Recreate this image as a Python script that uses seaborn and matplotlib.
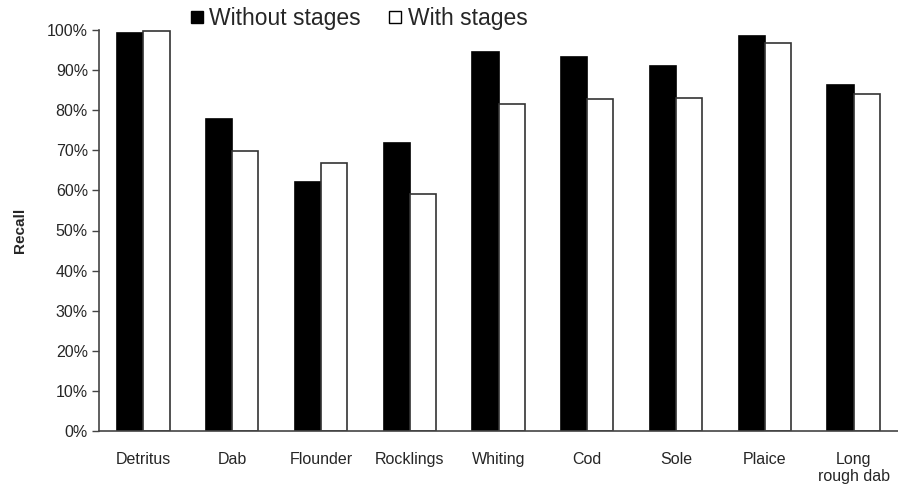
import matplotlib
matplotlib.use("Agg")
import matplotlib.pyplot as plt
import seaborn as sns
import pandas as pd
from matplotlib.lines import Line2D

categories = ["Detritus", "Dab", "Flounder", "Rocklings", "Whiting", "Cod",
              "Sole", "Plaice", "Long\nrough dab"]
without_stages = [99.2, 77.8, 62.1, 71.8, 94.5, 93.3, 91.0, 98.5, 86.3]
with_stages = [99.7, 69.8, 66.8, 59.1, 81.5, 82.8, 83.0, 96.8, 84.0]
series_names = ["Without stages", "With stages"]
y_ticks = [0, 10, 20, 30, 40, 50, 60, 70, 80, 90, 100]

df = pd.DataFrame({
    "Category": categories * 2,
    "Recall": without_stages + with_stages,
    "Series": [series_names[0]] * len(categories) + [series_names[1]] * len(categories),
})

sns.set_style("white")
plt.rcParams["font.family"] = ["Liberation Sans", "DejaVu Sans"]

fig = plt.figure(figsize=(8.98, 4.95), dpi=100)
ax = fig.add_axes([99 / 898, 1 - 431 / 495, 1 - 99 / 898, (431 - 30) / 495])

sns.barplot(data=df, x="Category", y="Recall", hue="Series", order=categories,
            hue_order=series_names, palette=["black", "white"], width=0.59,
            edgecolor="black", linewidth=1.2, ax=ax, legend=False)
for p in ax.patches:
    if p.get_facecolor()[0] > 0.5:
        p.set_edgecolor("#333333")

ax.set_ylim(0, 100)
ax.set_xlim(-0.5, len(categories) - 0.5)
ax.set_yticks(y_ticks)
ax.set_yticklabels([f"{v}%" for v in y_ticks], fontsize=11.5)
ax.set_xticks(range(len(categories)))
ax.set_xticklabels(categories, fontsize=11.5)
ax.set_xticks([i - 0.5 for i in range(len(categories) + 1)], minor=True)
ax.tick_params(axis="x", which="major", length=0, pad=15)
ax.tick_params(axis="x", which="minor", length=5, width=1, color="#444444", direction="out")
ax.tick_params(axis="y", length=5, width=1, color="#444444", direction="out", left=True, pad=3)
ax.set_xlabel("")
ax.set_ylabel("Recall", fontsize=11, fontweight="bold", labelpad=14)
for s in ["top", "right"]:
    ax.spines[s].set_visible(False)
for s in ["left", "bottom"]:
    ax.spines[s].set_color("#444444")
    ax.spines[s].set_linewidth(1.2)

handles = [
    Line2D([0], [0], marker="s", linestyle="none", markersize=9,
           markerfacecolor="black", markeredgecolor="black"),
    Line2D([0], [0], marker="s", linestyle="none", markersize=9,
           markerfacecolor="white", markeredgecolor="black", markeredgewidth=1),
]
fig.legend(handles, series_names, loc="center", bbox_to_anchor=(0.397, 0.962),
           ncol=2, frameon=False, fontsize=16.5, handletextpad=0.05,
           columnspacing=1.0, handlelength=1.0)

fig.savefig("out.png", dpi=100)
